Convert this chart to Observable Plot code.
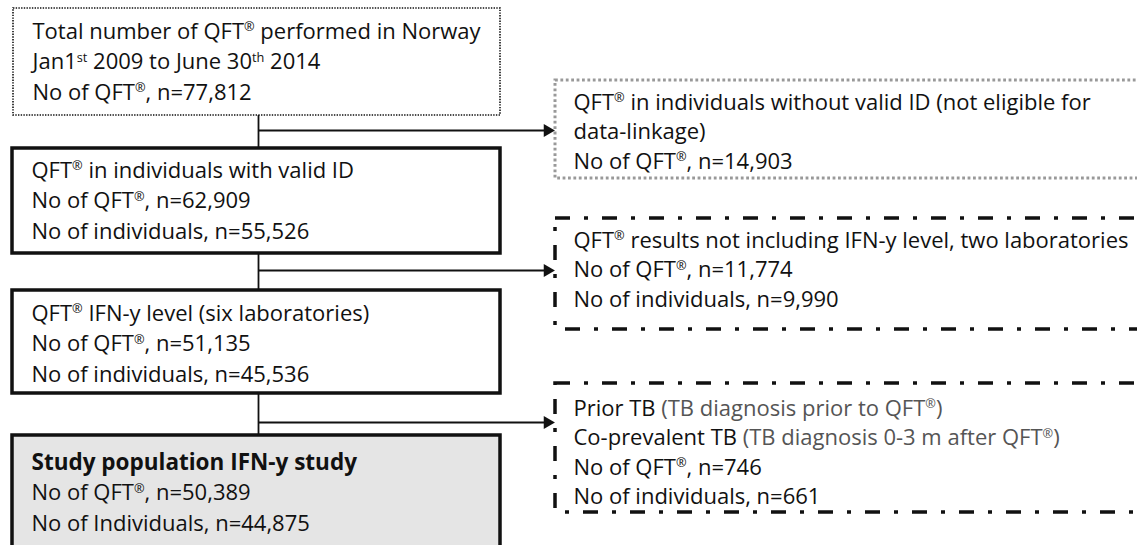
<!DOCTYPE html>
<html><head><meta charset="utf-8">
<script src="https://cdn.jsdelivr.net/npm/d3@7"></script>
<script src="https://cdn.jsdelivr.net/npm/@observablehq/plot@0.6"></script>
<style>body{margin:0;overflow:hidden;background:#fff}</style>
</head><body><div id="chart"></div>
<script>
// ---------- data ----------
const stepTitles = ["Total number of QFT® performed in Norway", "QFT® in individuals with valid ID", "QFT® IFN-y level (six laboratories)", "Study population IFN-y study"];
const stepPeriod = "Jan1^{st} 2009 to June 30^{th} 2014";
const stepTests = [77812, 62909, 51135, 50389];
const stepIndividuals = [null, 55526, 45536, 44875];
const stepIndLabel = ["No of individuals", "No of individuals", "No of individuals", "No of Individuals"];
const exclTitles = [
  ["QFT® in individuals without valid ID (not eligible for", "data-linkage)"],
  ["QFT® results not including IFN-y level, two laboratories"],
  ["Prior TB ~(TB diagnosis prior to QFT®)~", "Co-prevalent TB ~(TB diagnosis 0-3 m after QFT®)~"]
];
const exclTests = [14903, 11774, 746];
const exclIndividuals = [null, 9990, 661];
const testsLabel = "No of QFT®";

// ---------- layout ----------
const W = 1137, H = 545, FS = 22, GAP = 30.5;
const fmt = d3.format(",");
const mainBoxes = [
  {x1: 13, x2: 500, y1: 8, y2: 115, first: 30, style: "dotted"},
  {x1: 12, x2: 500, y1: 148, y2: 253, first: 29, style: "solid"},
  {x1: 12, x2: 500, y1: 290, y2: 393, first: 30, style: "solid"},
  {x1: 12, x2: 500, y1: 435, y2: 580, first: 34, style: "filled"}
];
const sideBoxes = [
  {x1: 555, x2: 1170, y1: 80, y2: 178, first: 29, style: "gray"},
  {x1: 555, x2: 1170, y1: 218, y2: 329, first: 29, style: "dashdot"},
  {x1: 555, x2: 1170, y1: 383, y2: 512, first: 32, style: "dashdot"}
];
const branchX = 258;
const arrowY = [130, 270, 422];

const lines = [];
stepTitles.forEach((t, i) => {
  const b = mainBoxes[i];
  const rows = [t];
  if (i === 0) rows.push(stepPeriod);
  rows.push(`${testsLabel}, n=${fmt(stepTests[i])}`);
  if (stepIndividuals[i] != null) rows.push(`${stepIndLabel[i]}, n=${fmt(stepIndividuals[i])}`);
  rows.forEach((r, j) => lines.push({x: b.x1 + 19, y: b.y1 + b.first + j * GAP, text: r, bold: i === 3 && j === 0}));
});
exclTitles.forEach((ts, i) => {
  const b = sideBoxes[i];
  const rows = [...ts, `${testsLabel}, n=${fmt(exclTests[i])}`];
  if (exclIndividuals[i] != null) rows.push(`No of individuals, n=${fmt(exclIndividuals[i])}`);
  rows.forEach((r, j) => lines.push({x: b.x1 + 18, y: b.y1 + b.first + j * 29.5, text: r, bold: false}));
});
const connectors = mainBoxes.slice(0, 3).map((b, i) => ({x: branchX, y1: b.y2, y2: mainBoxes[i + 1].y1}));
const arrows = arrowY.map((y, i) => ({y, x1: branchX, x2: sideBoxes[i].x1}));

const font = "'Open Sans', 'Noto Sans', sans-serif";
const boxSel = s => mainBoxes.concat(sideBoxes).filter(b => b.style === s);

const chart = Plot.plot({
  width: W, height: H, margin: 0,
  x: {domain: [0, W], range: [0, W], axis: null},
  y: {domain: [0, H], range: [0, H], axis: null},
  style: {background: "#fff"},
  marks: [
    Plot.rect(boxSel("filled"), {x1: "x1", x2: "x2", y1: "y1", y2: "y2", fill: "#e5e5e5", stroke: "#111", strokeWidth: 3.5, clip: true}),
    Plot.rect(boxSel("solid"), {x1: "x1", x2: "x2", y1: "y1", y2: "y2", fill: "none", stroke: "#111", strokeWidth: 3.5}),
    Plot.rect(boxSel("dotted"), {x1: "x1", x2: "x2", y1: "y1", y2: "y2", fill: "none", stroke: "#111", strokeWidth: 1.6, strokeDasharray: "1.4,1.3"}),
    Plot.rect(boxSel("gray"), {x1: "x1", x2: "x2", y1: "y1", y2: "y2", fill: "none", stroke: "#999", strokeWidth: 3, strokeDasharray: "2.8,2.6", clip: true}),
    Plot.rect(boxSel("dashdot"), {x1: "x1", x2: "x2", y1: "y1", y2: "y2", fill: "none", stroke: "#111", strokeWidth: 3.5, strokeDasharray: "15,14,4,14", clip: true}),
    Plot.ruleX(connectors, {x: "x", y1: "y1", y2: "y2", stroke: "#111", strokeWidth: 1.8}),
    Plot.ruleY(arrows, {y: "y", x1: "x1", x2: d => d.x2 - 8, stroke: "#111", strokeWidth: 1.8}),
    Plot.dot(arrows, {x: d => d.x2 - 8, y: "y", symbol: "triangle", rotate: 90, r: 4.8, fill: "#111", stroke: "none"}),
    Plot.text(lines.filter(d => !d.bold), {x: "x", y: "y", text: "text", textAnchor: "start", lineAnchor: "bottom", fontSize: FS, fontFamily: font, fill: "#111"}),
    Plot.text(lines.filter(d => d.bold), {x: "x", y: "y", text: "text", textAnchor: "start", lineAnchor: "bottom", fontSize: FS + 0.5, fontWeight: "bold", fontFamily: font, fill: "#111"})
  ]
});

// rich text: superscripts (® and ^{..}) and gray spans (~..~)
d3.select(chart).selectAll("g[aria-label=text] text").each(function () {
  const raw = this.textContent;
  if (!/[®^~]/.test(raw)) return;
  const el = d3.select(this);
  el.text("");
  let gray = false, pending = 0;
  const fs = FS;
  raw.split(/(\^\{[^}]*\}|®|~)/).filter(s => s !== "").forEach(t => {
    if (t === "~") { gray = !gray; return; }
    let txt = t, sup = false;
    if (t === "®") sup = true;
    else if (t.startsWith("^{")) { sup = true; txt = t.slice(2, -1); }
    const ts = el.append("tspan").text(txt);
    if (gray) ts.attr("fill", "#555");
    if (sup) { ts.attr("font-size", fs * 0.58).attr("dy", -fs * 0.34); pending = fs * 0.34; }
    else if (pending) { ts.attr("dy", pending); pending = 0; }
  });
});

document.getElementById("chart").append(chart);
</script>
</body></html>
